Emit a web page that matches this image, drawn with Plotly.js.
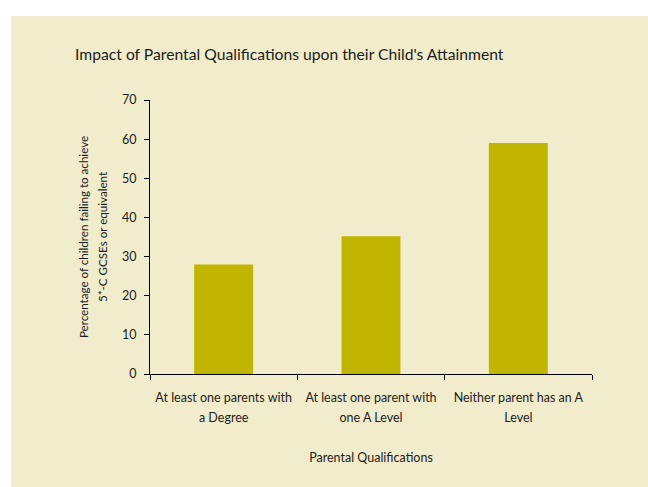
<!DOCTYPE html>
<html>
<head>
<meta charset="utf-8">
<script src="https://cdn.plot.ly/plotly-3.0.1.min.js"></script>
<style>
html,body{margin:0;padding:0;background:#ffffff;}
#chart{position:absolute;left:11px;top:16px;width:637px;height:471px;}
</style>
</head>
<body>
<div id="chart"></div>
<script>
const categories = ["At least one parents with<br>a Degree", "At least one parent with<br>one A Level", "Neither parent has an A<br>Level"];
const values = [28, 35.2, 59];
const yTicks = [0, 10, 20, 30, 40, 50, 60, 70];
const xTitle = "Parental Qualifications";
const yTitle = "Percentage of children failing to achieve<br>5*-C GCSEs or equivalent";
const chartTitle = "Impact of Parental Qualifications upon their Child's Attainment";

const font = "Lato, 'Open Sans', sans-serif";
const textColor = "#1c1c1c";
const sized = (s, px) => s.split("<br>").map(p => '<span style="font-size:' + px + 'px">' + p + '</span>').join("<br>");

Plotly.newPlot("chart", [{
  type: "bar",
  x: categories,
  y: values,
  marker: {color: "#C2B500"},
  hoverinfo: "none"
}], {
  width: 637,
  height: 471,
  paper_bgcolor: "#F1ECCB",
  plot_bgcolor: "#F1ECCB",
  margin: {l: 139, r: 56, t: 84, b: 113},
  bargap: 0.6,
  showlegend: false,
  font: {family: font, color: textColor, size: 12.5},
  title: {
    text: chartTitle,
    font: {family: font, size: 15.7, color: textColor},
    x: 64 / 637, xanchor: "left", xref: "container",
    y: 1 - 39 / 471, yanchor: "middle", yref: "container"
  },
  xaxis: {
    type: "category",
    tickvals: categories,
    ticktext: categories.map(c => sized(c, 12.5)),
    showline: true, linecolor: "#000", linewidth: 1,
    ticks: "outside", ticklen: 5, tickcolor: "#000",
    tickson: "boundaries",
    showgrid: false, zeroline: false,
    ticklabelstandoff: 8,
    automargin: true,
    tickfont: {family: font, size: 15.6, color: textColor},
    title: {text: xTitle, font: {family: font, size: 12.5, color: textColor}, standoff: 29}
  },
  yaxis: {
    range: [0, 70],
    tickvals: yTicks,
    showline: true, linecolor: "#000", linewidth: 1,
    ticks: "outside", ticklen: 5, tickcolor: "#000",
    showgrid: false, zeroline: false,
    ticklabelstandoff: 5,
    automargin: true,
    tickfont: {family: font, size: 12.5, color: textColor},
    title: {text: sized(yTitle, 11.6), font: {family: font, size: 14, color: textColor}, standoff: 11}
  }
}, {displayModeBar: false, staticPlot: true});
</script>
</body>
</html>
